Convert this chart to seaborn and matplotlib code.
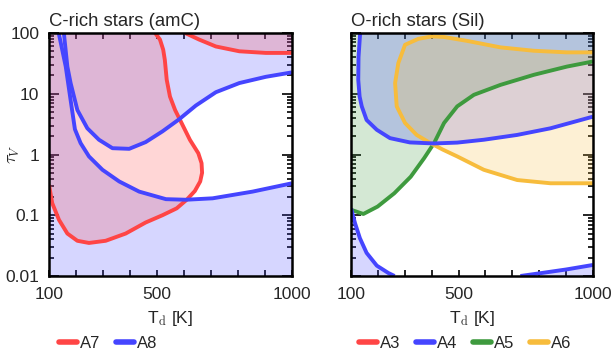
import numpy as np
import pandas as pd
import matplotlib
matplotlib.use("Agg")
import matplotlib.pyplot as plt
from matplotlib.lines import Line2D
from matplotlib.ticker import FixedLocator, LogLocator, FuncFormatter, NullFormatter
import seaborn as sns

sns.set_theme(style="ticks")
plt.rcParams["font.family"] = ["Liberation Sans", "DejaVu Sans"]
plt.rcParams["mathtext.fontset"] = "cm"

# ---- C-rich stars (amC) ----
# A8: outer (lower) boundary of the band
a8_lo_T = [136, 162, 180, 196, 217, 248, 298, 360, 434, 533, 607, 706, 854, 1000]
a8_lo_tau = [100, 28, 7.9, 2.6, 1.54, 0.93, 0.56, 0.36, 0.245, 0.184, 0.18, 0.19, 0.245, 0.336]
# A8: inner (upper) boundary of the band
a8_hi_T = [155, 168, 180, 205, 242, 285, 335, 397, 458, 520, 582, 644, 718, 805, 903, 1000]
a8_hi_tau = [100, 28, 15, 5.4, 2.7, 1.75, 1.27, 1.24, 1.6, 2.4, 3.8, 6.4, 10.6, 15, 19, 22.5]
# A7: main loop
a7_T = [100, 112, 137, 168, 205, 248, 310, 384, 458, 520, 573, 610, 640, 660, 667, 665,
        653, 622, 591, 567, 548, 536, 529, 523, 511, 493]
a7_tau = [0.316, 0.158, 0.084, 0.050, 0.038, 0.035, 0.038, 0.050, 0.076, 0.10, 0.13, 0.18,
          0.25, 0.36, 0.5, 0.72, 1.05, 1.74, 3.3, 5.4, 9, 17, 36, 53, 78, 100]
# A7: upper-right branch
a7b_T = [604, 656, 718, 805, 903, 1000]
a7b_tau = [100, 78, 60, 50, 47, 47]

# ---- O-rich stars (Sil) ----
a4_hi_T = [134, 128, 127, 132, 140, 158, 196, 245, 319, 409, 495, 594, 718, 842, 1000]
a4_hi_tau = [100, 40, 17, 9, 6.2, 3.7, 2.55, 1.86, 1.58, 1.52, 1.57, 1.75, 2.1, 2.7, 4.2]
a4_lo1_T = [100, 115, 133, 158, 196, 239, 262]
a4_lo1_tau = [0.13, 0.074, 0.042, 0.024, 0.0148, 0.0112, 0.01]
a4_lo2_T = [730, 803, 900, 1000]
a4_lo2_tau = [0.01, 0.0111, 0.0128, 0.0152]
a5_T = [100, 146, 199, 261, 322, 372, 409, 446, 495, 557, 656, 780, 903, 1000]
a5_tau = [0.123, 0.105, 0.139, 0.23, 0.43, 0.87, 1.54, 3.3, 6.2, 9.6, 14, 20.5, 28, 34]
a6_T = [1000, 903, 780, 656, 533, 446, 400, 350, 301, 276, 264, 270, 301, 344, 394,
        442, 495, 594, 718, 842, 1000]
a6_tau = [48, 48, 51, 58, 74, 86, 88, 80, 64, 32, 15, 6.2, 3.3, 2.1, 1.55,
          1.2, 0.93, 0.56, 0.38, 0.336, 0.336]

RED = "#ff4545"
BLUE = "#4545ff"
GREEN = "#3e9a3e"
GOLD = "#f7bc3c"
FA = 0.22
LW = 2.8
TMIN, TMAX, YMIN, YMAX = 100, 1000, 0.01, 100


def curve(ax, T, tau, color):
    df = pd.DataFrame({"T": T, "tau": tau})
    sns.lineplot(data=df, x="T", y="tau", sort=False, estimator=None,
                 color=color, lw=LW, ax=ax, solid_capstyle="butt",
                 solid_joinstyle="round")


def region(ax, T, tau, color):
    ax.fill(T, tau, color=color, alpha=FA, lw=0)


fig = plt.figure(figsize=(6.14, 3.54), dpi=100)
axL = fig.add_axes([49 / 614, 1 - 276 / 354, 243 / 614, 243 / 354])
axR = fig.add_axes([351 / 614, 1 - 276 / 354, 242 / 614, 243 / 354])

# left panel fills
region(axL, a8_lo_T + [TMAX, TMIN, TMIN], a8_lo_tau + [YMIN, YMIN, YMAX], BLUE)
region(axL, a8_hi_T + [TMAX], a8_hi_tau + [YMAX], BLUE)
region(axL, a7_T + [TMIN], a7_tau + [YMAX], RED)
region(axL, a7b_T + [TMAX], a7b_tau + [YMAX], RED)
curve(axL, a7_T, a7_tau, RED)
curve(axL, a7b_T, a7b_tau, RED)
curve(axL, a8_lo_T, a8_lo_tau, BLUE)
curve(axL, a8_hi_T, a8_hi_tau, BLUE)

# right panel fills
region(axR, a5_T + [TMAX, TMIN], a5_tau + [YMAX, YMAX], GREEN)
region(axR, a4_hi_T + [TMAX], a4_hi_tau + [YMAX], BLUE)
region(axR, a4_lo1_T + [TMIN], a4_lo1_tau + [YMIN], BLUE)
region(axR, a4_lo2_T + [TMAX], a4_lo2_tau + [YMIN], BLUE)
region(axR, a6_T, a6_tau, GOLD)
curve(axR, a5_T, a5_tau, GREEN)
curve(axR, a6_T, a6_tau, GOLD)
curve(axR, a4_hi_T, a4_hi_tau, BLUE)
curve(axR, a4_lo1_T, a4_lo1_tau, BLUE)
curve(axR, a4_lo2_T, a4_lo2_tau, BLUE)

xticks = list(range(100, 1001, 100))
xlabels = {100: "100", 500: "500", 1000: "1000"}

for ax in (axL, axR):
    ax.set_yscale("log")
    ax.set_xlim(TMIN, TMAX)
    ax.set_ylim(YMIN, YMAX)
    ax.xaxis.set_major_locator(FixedLocator(xticks))
    ax.xaxis.set_major_formatter(FuncFormatter(lambda v, p: xlabels.get(int(round(v)), "")))
    ax.yaxis.set_major_locator(LogLocator(base=10, numticks=10))
    ax.yaxis.set_minor_locator(LogLocator(base=10, subs=np.arange(2, 10), numticks=10))
    ax.yaxis.set_minor_formatter(NullFormatter())
    ax.tick_params(which="both", direction="in", top=True, right=True,
                   labelsize=12.5, width=1.2, color="black")
    ax.tick_params(axis="x", which="major", length=4, pad=8)
    ax.tick_params(axis="y", which="major", length=7, pad=7)
    ax.tick_params(axis="y", which="minor", length=3.5)
    for s in ax.spines.values():
        s.set_linewidth(1.8)
        s.set_color("black")
    ax.set_xlabel(r"T$_{\mathrm{d}}$ [K]", fontsize=12.5, labelpad=5)
    ax.set_ylabel("")

axL.yaxis.set_major_formatter(FuncFormatter(lambda v, p: f"{v:g}"))
axR.yaxis.set_major_formatter(NullFormatter())
axL.set_ylabel(r"$\tau_V$", fontsize=13)
axL.yaxis.set_label_coords(-0.11, 0.5)

axL.set_title("C-rich stars (amC)", loc="left", fontsize=13.3, pad=5)
axR.set_title("O-rich stars (Sil)", loc="left", fontsize=13.3, pad=5)

leg_kw = dict(loc="center left", frameon=False, fontsize=12, handlelength=1.1,
              handletextpad=0.15, columnspacing=0.95, borderpad=0, borderaxespad=0)
hL = [Line2D([], [], color=RED, lw=4), Line2D([], [], color=BLUE, lw=4)]
fig.legend(hL, ["A7", "A8"], ncol=2, bbox_to_anchor=(59 / 614, 1 - 343 / 354), **leg_kw)
hR = [Line2D([], [], color=c, lw=4) for c in (RED, BLUE, GREEN, GOLD)]
fig.legend(hR, ["A3", "A4", "A5", "A6"], ncol=4, bbox_to_anchor=(359 / 614, 1 - 343 / 354), **leg_kw)

fig.savefig("out.png", dpi=100)
